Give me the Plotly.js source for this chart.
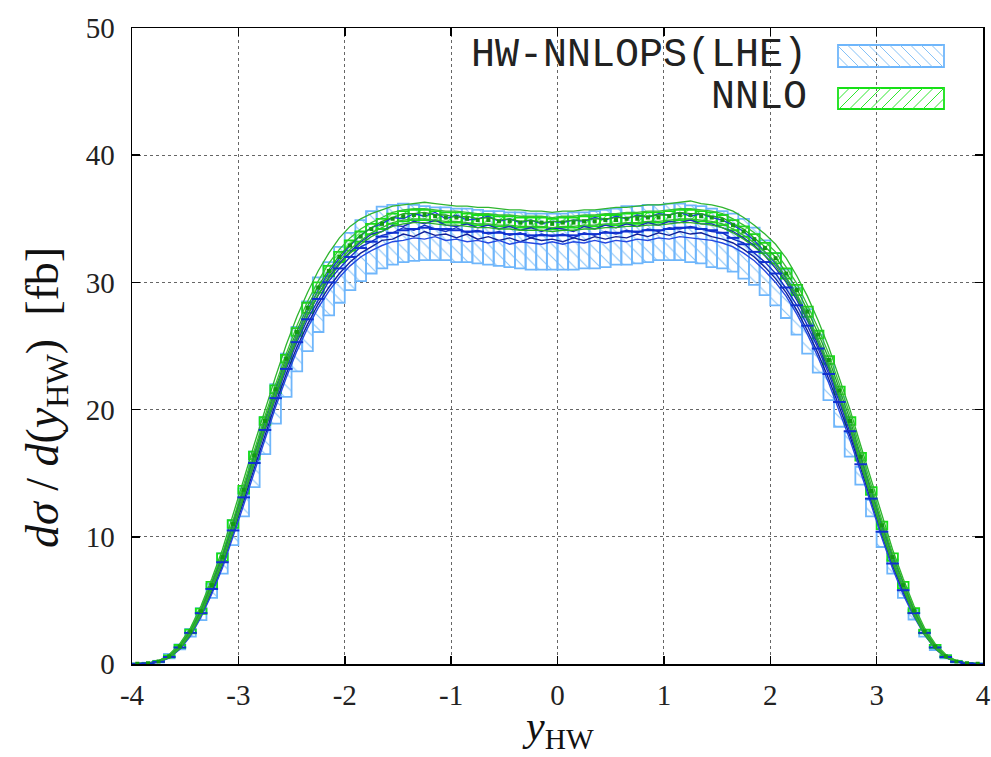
<!DOCTYPE html>
<html><head><meta charset="utf-8">
<script src="https://cdn.plot.ly/plotly-3.0.1.min.js"></script>
<style>html,body{margin:0;padding:0;background:#fff}#chart{width:991px;height:757px}</style>
</head><body><div id="chart"></div>
<script>
// bin centres (width 0.1)
const xBins = [-3.95,-3.85,-3.75,-3.65,-3.55,-3.45,-3.35,-3.25,-3.15,-3.05,
 -2.95,-2.85,-2.75,-2.65,-2.55,-2.45,-2.35,-2.25,-2.15,-2.05,
 -1.95,-1.85,-1.75,-1.65,-1.55,-1.45,-1.35,-1.25,-1.15,-1.05,
 -0.95,-0.85,-0.75,-0.65,-0.55,-0.45,-0.35,-0.25,-0.15,-0.05,
 0.05,0.15,0.25,0.35,0.45,0.55,0.65,0.75,0.85,0.95,
 1.05,1.15,1.25,1.35,1.45,1.55,1.65,1.75,1.85,1.95,
 2.05,2.15,2.25,2.35,2.45,2.55,2.65,2.75,2.85,2.95,
 3.05,3.15,3.25,3.35,3.45,3.55,3.65,3.75,3.85,3.95];
const binWidth = 0.1;

// HW-NNLOPS(LHE) band
const hwUpper = [0.03,0.1,0.25,0.8,1.55,2.75,4.4,6.3,8.7,11.3,
 13.8,16.7,19.4,22.0,24.4,26.5,28.5,30.4,31.6,32.8,
 33.9,34.9,35.6,35.95,36.1,36.2,36.1,36.0,35.9,35.9,
 35.8,35.8,35.7,35.6,35.6,35.5,35.5,35.4,35.4,35.4,
 35.4,35.5,35.5,35.6,35.7,35.8,36.0,36.0,36.1,36.1,
 36.2,36.2,36.05,36.0,35.8,35.6,35.4,35.0,34.3,33.3,
 32.3,31.0,29.6,27.9,25.9,23.6,21.0,18.2,15.5,12.9,
 10.4,8.2,5.95,4.25,2.67,1.5,0.7,0.25,0.08,0.02];
const hwLower = [0.01,0.04,0.12,0.45,1.15,2.15,3.45,5.2,7.1,9.35,
 11.6,13.9,16.5,18.9,21.0,23.0,24.6,26.1,27.4,28.4,
 29.4,30.1,30.7,31.1,31.4,31.6,31.7,31.75,31.75,31.75,
 31.6,31.6,31.5,31.4,31.3,31.2,31.1,31.0,31.0,31.0,
 31.0,31.0,31.1,31.1,31.2,31.4,31.4,31.5,31.6,31.75,
 31.75,31.75,31.6,31.5,31.2,31.1,30.85,30.3,29.8,29.0,
 28.2,27.2,25.9,24.4,22.9,20.75,18.65,16.3,14.1,11.6,
 9.2,7.1,5.2,3.5,2.15,1.1,0.45,0.12,0.04,0.01];
const hwCentral = [0.02,0.05,0.17,0.55,1.3,2.45,4.0,5.9,8.0,10.5,
 13.1,15.8,18.4,20.9,23.2,25.3,27.1,28.7,30.0,31.1,
 32.0,32.7,33.2,33.6,33.9,34.1,34.2,34.3,34.2,34.2,
 34.1,34.0,34.0,33.9,33.9,33.8,33.8,33.7,33.7,33.7,
 33.7,33.7,33.8,33.8,33.9,33.9,34.0,34.0,34.1,34.1,
 34.2,34.3,34.3,34.2,34.1,33.9,33.5,33.0,32.4,31.6,
 30.7,29.6,28.2,26.6,24.8,22.8,20.6,18.3,15.7,13.0,
 10.4,7.9,5.8,4.0,2.45,1.3,0.55,0.17,0.05,0.02];
// HW-NNLOPS scale-variation lines
const hwVar1 = [0.03,0.07,0.22,0.68,1.5,2.75,4.4,6.4,8.6,11.1,
 13.7,16.4,19.0,21.5,23.8,25.9,27.8,29.4,30.8,31.9,
 32.9,33.7,34.3,34.6,35.1,35.0,35.4,35.2,35.5,35.0,
 35.3,34.9,35.0,35.2,34.8,35.0,34.7,34.9,34.6,34.8,
 34.7,34.9,34.8,35.1,34.9,35.2,35.0,35.3,35.1,35.4,
 35.3,35.5,35.2,35.4,35.1,34.9,34.5,34.0,33.3,32.4,
 31.5,30.3,28.9,27.3,25.4,23.4,21.2,18.8,16.2,13.5,
 10.8,8.3,6.1,4.25,2.65,1.45,0.63,0.2,0.06,0.02];
const hwVar2 = [0.02,0.06,0.19,0.6,1.4,2.6,4.2,6.15,8.3,10.8,
 13.4,16.1,18.7,21.2,23.5,25.6,27.4,29.0,30.4,31.5,
 32.4,33.2,33.8,34.0,34.5,34.4,34.8,34.6,34.9,34.5,
 34.4,34.6,34.3,34.5,34.2,34.4,34.1,34.3,34.0,34.3,
 34.2,34.0,34.4,34.2,34.5,34.3,34.6,34.4,34.7,34.5,
 34.8,34.7,34.9,34.6,34.6,34.3,34.0,33.5,32.9,32.1,
 31.1,30.0,28.6,27.0,25.1,23.1,20.9,18.6,16.0,13.3,
 10.6,8.1,6.0,4.1,2.55,1.38,0.6,0.18,0.05,0.02];
const hwVar3 = [0.02,0.05,0.17,0.55,1.3,2.45,4.0,5.9,8.0,10.5,
 13.1,15.8,18.4,20.9,23.2,25.3,27.1,28.6,30.1,31.1,
 32.0,32.8,33.2,33.7,33.9,34.3,34.1,34.5,34.2,34.0,
 34.3,33.9,34.1,33.8,34.0,33.7,33.9,33.5,33.8,33.6,
 33.8,33.5,33.9,33.7,34.0,33.8,34.1,33.9,34.2,34.0,
 34.3,34.2,34.4,34.2,34.0,33.9,33.4,33.1,32.3,31.6,
 30.7,29.5,28.2,26.6,24.8,22.8,20.6,18.2,15.7,13.0,
 10.4,7.9,5.8,4.0,2.45,1.3,0.55,0.17,0.05,0.02];
const hwVar4 = [0.01,0.04,0.15,0.5,1.2,2.3,3.8,5.65,7.75,10.2,
 12.8,15.4,18.0,20.5,22.8,24.9,26.7,28.3,29.6,30.7,
 31.6,32.3,32.8,33.3,33.4,33.8,33.6,34.0,33.7,33.8,
 33.5,33.8,33.4,33.6,33.3,33.5,33.2,33.5,33.3,33.4,
 33.2,33.5,33.3,33.6,33.4,33.6,33.5,33.8,33.6,33.9,
 33.7,34.0,33.8,33.9,33.6,33.4,33.1,32.6,32.0,31.2,
 30.3,29.2,27.8,26.2,24.4,22.4,20.2,17.9,15.4,12.7,
 10.1,7.7,5.6,3.85,2.35,1.25,0.52,0.15,0.04,0.01];
const hwVar5 = [0.01,0.04,0.14,0.48,1.15,2.2,3.7,5.5,7.55,10.0,
 12.5,15.1,17.7,20.2,22.5,24.6,26.4,28.0,29.3,30.4,
 31.3,32.0,32.5,32.9,33.2,33.3,33.5,33.4,33.6,33.3,
 33.4,33.2,33.3,33.1,33.3,33.0,33.2,33.1,33.0,33.2,
 33.0,33.2,33.1,33.3,33.1,33.3,33.2,33.4,33.3,33.5,
 33.4,33.6,33.5,33.4,33.3,33.1,32.8,32.3,31.7,30.9,
 30.0,28.9,27.5,25.9,24.1,22.1,19.9,17.6,15.1,12.5,
 9.9,7.5,5.45,3.75,2.3,1.2,0.5,0.15,0.04,0.01];

// NNLO band
const nnloCentral = [0.02,0.06,0.2,0.6,1.38,2.55,4.15,6.2,8.4,11.0,
 13.7,16.4,19.1,21.6,24.0,26.1,28.0,29.6,30.9,32.0,
 32.9,33.6,34.2,34.6,35.0,35.2,35.3,35.3,35.2,35.1,
 35.1,35.0,34.9,34.9,34.8,34.8,34.7,34.7,34.7,34.6,
 34.7,34.7,34.8,34.8,34.9,34.9,35.0,35.0,35.1,35.1,
 35.2,35.3,35.3,35.2,35.1,34.9,34.5,34.0,33.4,32.7,
 31.9,30.7,29.4,27.7,25.9,23.9,21.5,19.1,16.3,13.6,
 10.9,8.4,6.2,4.2,2.55,1.38,0.6,0.2,0.06,0.02];
const nnloUpper = [0.03,0.08,0.24,0.68,1.5,2.7,4.35,6.45,8.7,11.3,
 14.0,16.7,19.4,21.9,24.3,26.4,28.4,30.0,31.3,32.4,
 33.3,34.0,34.6,35.0,35.4,35.6,35.7,35.7,35.6,35.5,
 35.5,35.4,35.3,35.3,35.2,35.2,35.1,35.1,35.1,35.0,
 35.1,35.1,35.2,35.2,35.3,35.3,35.4,35.4,35.5,35.5,
 35.6,35.7,35.7,35.6,35.5,35.3,34.9,34.4,33.8,33.1,
 32.3,31.1,29.8,28.1,26.2,24.2,21.8,19.4,16.6,13.9,
 11.2,8.7,6.45,4.4,2.7,1.5,0.68,0.24,0.08,0.03];
const nnloLower = [0.01,0.04,0.16,0.52,1.26,2.4,3.95,5.95,8.1,10.7,
 13.4,16.1,18.8,21.3,23.7,25.8,27.6,29.2,30.5,31.6,
 32.5,33.2,33.8,34.2,34.6,34.8,34.9,34.9,34.8,34.7,
 34.7,34.6,34.5,34.5,34.4,34.4,34.3,34.3,34.3,34.2,
 34.3,34.3,34.4,34.4,34.5,34.5,34.6,34.6,34.7,34.7,
 34.8,34.9,34.9,34.8,34.7,34.5,34.1,33.6,33.0,32.3,
 31.5,30.3,29.0,27.3,25.6,23.6,21.2,18.8,16.0,13.3,
 10.6,8.1,5.95,4.0,2.4,1.26,0.52,0.16,0.04,0.01];
// NNLO scale-variation lines
const nnloVar1 = [0.03,0.09,0.26,0.75,1.6,2.85,4.6,6.7,9.0,11.7,
 14.5,17.3,20.0,22.6,25.1,27.3,29.2,30.9,32.3,33.5,
 34.4,35.0,35.4,35.7,36.0,36.1,36.2,36.3,36.2,36.1,
 36.0,36.0,35.9,35.9,35.8,35.7,35.7,35.6,35.6,35.5,
 35.6,35.6,35.7,35.7,35.8,35.9,35.9,36.0,36.1,36.1,
 36.2,36.3,36.4,36.2,36.1,35.9,35.6,35.1,34.5,33.8,
 33.0,31.9,30.5,28.9,27.0,24.9,22.5,20.0,17.2,14.4,
 11.6,9.0,6.7,4.6,2.85,1.6,0.75,0.26,0.09,0.03];
const nnloVar2 = [0.03,0.07,0.23,0.68,1.5,2.7,4.4,6.45,8.7,11.3,
 14.1,16.8,19.5,22.0,24.4,26.6,28.5,30.1,31.5,32.6,
 33.5,34.2,34.7,35.1,35.5,35.7,35.8,35.8,35.7,35.6,
 35.6,35.5,35.4,35.4,35.3,35.3,35.2,35.2,35.2,35.1,
 35.2,35.2,35.3,35.3,35.4,35.4,35.5,35.5,35.6,35.6,
 35.7,35.8,35.8,35.7,35.6,35.4,35.0,34.5,33.9,33.2,
 32.4,31.2,29.9,28.2,26.4,24.4,22.0,19.6,16.8,14.0,
 11.3,8.7,6.45,4.4,2.7,1.5,0.68,0.23,0.07,0.03];
const nnloVar3 = [0.02,0.06,0.21,0.62,1.42,2.6,4.25,6.3,8.5,11.1,
 13.8,16.5,19.2,21.7,24.1,26.2,28.1,29.7,31.0,32.1,
 33.0,33.7,34.3,34.8,35.1,35.4,35.4,35.5,35.3,35.3,
 35.1,35.2,35.0,35.1,34.9,35.0,34.8,34.9,34.7,34.8,
 34.8,34.9,34.9,35.0,35.0,35.1,35.1,35.2,35.2,35.3,
 35.3,35.5,35.4,35.4,35.2,35.1,34.6,34.2,33.5,32.8,
 32.0,30.8,29.5,27.8,26.0,24.0,21.6,19.2,16.4,13.7,
 11.0,8.5,6.3,4.25,2.6,1.42,0.62,0.21,0.06,0.02];
const nnloVar4 = [0.02,0.05,0.18,0.55,1.3,2.45,4.0,6.0,8.15,10.7,
 13.4,16.1,18.8,21.3,23.7,25.8,27.7,29.3,30.6,31.7,
 32.6,33.3,33.9,34.3,34.7,34.9,35.0,35.0,34.9,34.8,
 34.8,34.7,34.6,34.6,34.5,34.5,34.4,34.4,34.4,34.3,
 34.4,34.4,34.5,34.5,34.6,34.6,34.7,34.7,34.8,34.8,
 34.9,35.0,35.0,34.9,34.8,34.6,34.2,33.7,33.1,32.4,
 31.6,30.4,29.1,27.4,25.6,23.6,21.2,18.8,16.0,13.3,
 10.6,8.15,6.0,4.0,2.45,1.3,0.55,0.18,0.05,0.02];
const nnloVar5 = [0.01,0.04,0.16,0.5,1.22,2.3,3.85,5.8,7.9,10.4,
 13.1,15.8,18.5,21.0,23.4,25.5,27.4,29.0,30.3,31.4,
 32.3,33.0,33.6,34.0,34.4,34.6,34.7,34.7,34.6,34.5,
 34.5,34.4,34.3,34.3,34.2,34.2,34.1,34.1,34.1,34.0,
 34.1,34.1,34.2,34.2,34.3,34.3,34.4,34.4,34.5,34.5,
 34.6,34.7,34.7,34.6,34.5,34.3,33.9,33.4,32.8,32.1,
 31.3,30.1,28.8,27.1,25.3,23.3,20.9,18.5,15.7,13.0,
 10.3,7.9,5.8,3.85,2.3,1.22,0.5,0.16,0.04,0.01];

const xTicks = [-4,-3,-2,-1,0,1,2,3,4];
const xTickText = ['-4','-3','-2','-1','0','1','2','3','4'];
const yTicks = [0,10,20,30,40,50];
const legendLabels = ['HW-NNLOPS(LHE)', 'NNLO'];

const blueEdge = '#6fb6fb', blueHatch = '#86c2f7';
const greenEdge = '#16e016', greenHatch = '#2ee82e';
const blueLineCols = ['#1f3fd8','#1a2fb8','#1633c4','#10209a','#2448e0'];
const greenLineCols = ['#2fb52f','#38c038','#24a824','#33b833','#29ad29'];

const traces = [];
traces.push({type:'bar', x:xBins, base:hwLower, y:hwUpper.map((u,i)=>u-hwLower[i]), width:binWidth,
  marker:{color:'rgba(0,0,0,0)', line:{color:blueEdge, width:1.8},
    pattern:{shape:'\\', fgcolor:blueHatch, bgcolor:'rgba(255,255,255,0)', size:9, solidity:0.12, fillmode:'replace'}},
  showlegend:false, hoverinfo:'skip'});
traces.push({type:'bar', x:xBins, base:nnloLower, y:nnloUpper.map((u,i)=>u-nnloLower[i]), width:binWidth,
  marker:{color:'rgba(0,0,0,0)', line:{color:greenEdge, width:1.8},
    pattern:{shape:'/', fgcolor:greenHatch, bgcolor:'rgba(255,255,255,0)', size:9, solidity:0.12, fillmode:'replace'}},
  showlegend:false, hoverinfo:'skip'});
[hwVar1,hwVar2,hwVar3,hwVar4,hwVar5].forEach((v,k)=>traces.push({type:'scatter', mode:'lines', x:xBins, y:v,
  line:{color:blueLineCols[k], width:1.4}, showlegend:false, hoverinfo:'skip'}));
[nnloVar1,nnloVar2,nnloVar3,nnloVar4,nnloVar5].forEach((v,k)=>traces.push({type:'scatter', mode:'lines', x:xBins, y:v,
  line:{color:greenLineCols[k], width:1.3}, showlegend:false, hoverinfo:'skip'}));
traces.push({type:'scatter', mode:'markers', x:xBins, y:hwCentral,
  marker:{symbol:'line-ew', size:9, line:{color:'#1030d0', width:2}}, showlegend:false, hoverinfo:'skip'});
traces.push({type:'scatter', mode:'markers', x:xBins, y:nnloCentral,
  marker:{symbol:'square', size:4, color:'#129a12'}, showlegend:false, hoverinfo:'skip'});

// legend (drawn as decoration)
const L = 132, R = 983, T = 28, B = 664;
const px = v => (v - L) / (R - L), py = v => (B - v) / (B - T);
const shapes = [];
function hatchBox(x0, y0, x1, y1, edge, hatch, dir){
  shapes.push({type:'rect', xref:'paper', yref:'paper', x0:px(x0), x1:px(x1), y0:py(y1), y1:py(y0),
    line:{color:edge, width:1.8}, fillcolor:'rgba(0,0,0,0)'});
  const h = y1 - y0, step = 10.5;
  for (let k = -h; k < (x1 - x0); k += step){
    let ax = x0 + k, ay = y0, bx = x0 + k + h, by = y1;
    if (ax < x0){ ay += (x0 - ax); ax = x0; }
    if (bx > x1){ by -= (bx - x1); bx = x1; }
    if (by - ay < 1) continue;
    let sx0 = ax, sx1 = bx;
    if (dir === '/'){ sx0 = x0 + x1 - ax; sx1 = x0 + x1 - bx; }
    shapes.push({type:'line', xref:'paper', yref:'paper', x0:px(sx0), y0:py(ay), x1:px(sx1), y1:py(by),
      line:{color:hatch, width:1}});
  }
}
hatchBox(838, 45, 944, 67, blueEdge, blueHatch, '\\');
hatchBox(838, 88, 944, 109, greenEdge, greenHatch, '/');

const monoFont = {family:'Liberation Mono, monospace', size:40, color:'#222'};
const annotations = [
  {xref:'paper', yref:'paper', x:px(809), y:py(55), xanchor:'right', yanchor:'middle', text:legendLabels[0], showarrow:false, font:monoFont},
  {xref:'paper', yref:'paper', x:px(809), y:py(98), xanchor:'right', yanchor:'middle', text:legendLabels[1], showarrow:false, font:monoFont},
  {xref:'paper', yref:'paper', x:px(46), y:py(398), xanchor:'center', yanchor:'middle', textangle:-90,
   text:'<i>dσ</i> / <i>d</i>(<i>y</i><sub>HW</sub>)  [fb]', showarrow:false, font:{family:'Liberation Serif, serif', size:46, color:'#111'}},
  {xref:'paper', yref:'paper', x:0.5, y:py(729), xanchor:'center', yanchor:'middle',
   text:'<i>y</i><sub>HW</sub>', showarrow:false, font:{family:'Liberation Serif, serif', size:42, color:'#111'}}
];

const tickFont = {family:'Liberation Serif, serif', size:29, color:'#222'};
const layout = {
  width:991, height:757, margin:{l:L, r:991-R, t:T, b:757-B},
  paper_bgcolor:'#fff', plot_bgcolor:'#fff', barmode:'overlay', showlegend:false,
  xaxis:{range:[-4,4], tickvals:xTicks, ticktext:xTickText, ticks:'inside', ticklen:8, tickwidth:1.5, tickcolor:'#000',
    showline:true, linecolor:'#000', linewidth:1.5, mirror:'ticks', showgrid:true, gridcolor:'rgba(0,0,0,0.6)',
    griddash:'dot', gridwidth:1, zeroline:false, tickfont:tickFont, ticklabelstandoff:5},
  yaxis:{range:[0,50], tickvals:yTicks, ticks:'inside', ticklen:8, tickwidth:1.5, tickcolor:'#000',
    showline:true, linecolor:'#000', linewidth:1.5, mirror:'ticks', showgrid:true, gridcolor:'rgba(0,0,0,0.6)',
    griddash:'dot', gridwidth:1, zeroline:false, tickfont:tickFont, ticklabelstandoff:10},
  shapes:shapes, annotations:annotations
};
Plotly.newPlot('chart', traces, layout, {displayModeBar:false, staticPlot:true});
</script></body></html>
